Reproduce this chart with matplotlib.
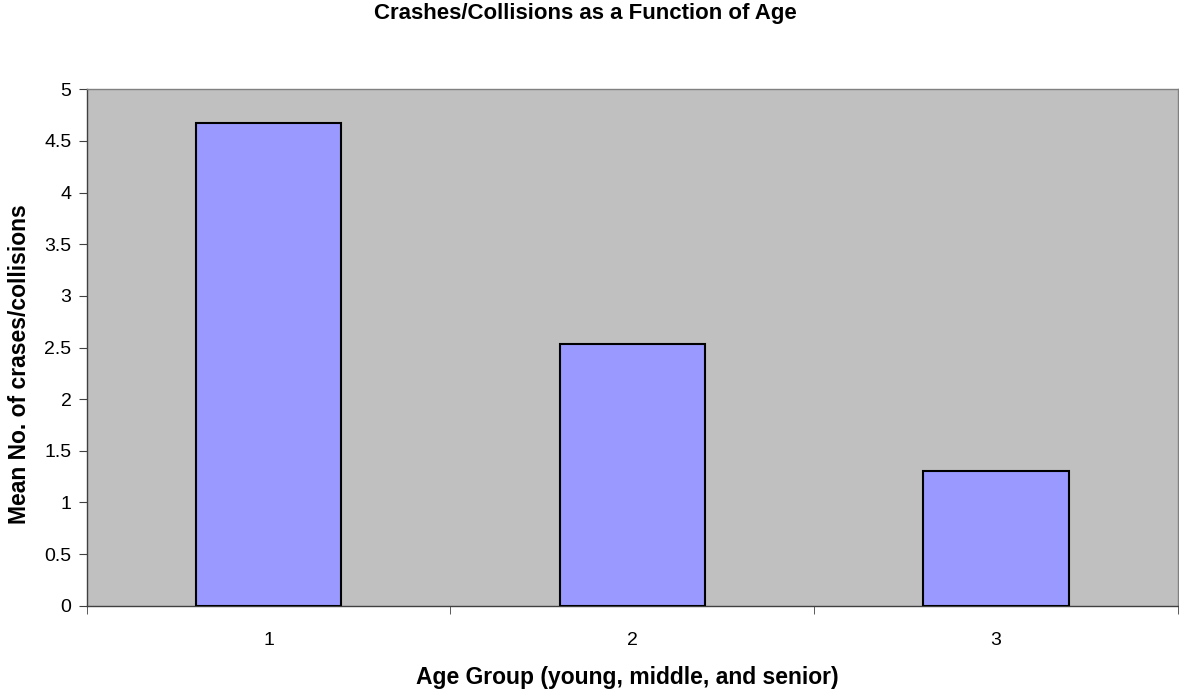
import matplotlib
matplotlib.use("Agg")
import matplotlib.pyplot as plt

categories = ["1", "2", "3"]
values = [4.67, 2.535, 1.30]
yticks = [0, 0.5, 1, 1.5, 2, 2.5, 3, 3.5, 4, 4.5, 5]
ytick_labels = ["0", "0.5", "1", "1.5", "2", "2.5", "3", "3.5", "4", "4.5", "5"]

plt.rcParams['font.family'] = ['Liberation Sans', 'DejaVu Sans']

W, H = 1179, 691
fig = plt.figure(figsize=(W/100, H/100), dpi=100)
ax = fig.add_axes([86.7/W, 1-605.7/H, (1178-86.7)/W, (605.7-89.3)/H])
ax.set_facecolor('#c0c0c0')
x = list(range(1, len(categories)+1))
ax.bar(x, values, width=0.4, color='#9999ff', edgecolor='black', linewidth=1.5, zorder=3)
ax.set_xlim(0.5, 3.5)
ax.set_ylim(0, 5)
ax.set_yticks(yticks)
ax.set_yticklabels(ytick_labels, fontsize=14)
ax.set_xticks(x)
ax.set_xticklabels(categories, fontsize=14)
ax.set_xticks([0.5, 1.5, 2.5, 3.5], minor=True)
ax.tick_params(axis='x', which='major', length=0, pad=19)
ax.tick_params(axis='x', which='minor', length=6, direction='out', color='#404040')
ax.tick_params(axis='y', which='major', length=6, direction='out', color='#404040', pad=5)
for s in ['top', 'right']:
    ax.spines[s].set_color('#808080')
    ax.spines[s].set_linewidth(1)
for s in ['left', 'bottom']:
    ax.spines[s].set_color('#404040')
    ax.spines[s].set_linewidth(1)

fig.text(627/W, 1-684/H, 'Age Group (young, middle, and senior)', ha='center', va='baseline',
         fontsize=16.5, fontweight='bold')
fig.text(20/W, 1-364/H, 'Mean No. of crases/collisions', ha='center', va='center',
         rotation=90, fontsize=16.5, fontweight='bold')
fig.text(585/W, 1-18.5/H, 'Crashes/Collisions as a Function of Age', ha='center', va='baseline',
         fontsize=16, fontweight='bold')

fig.savefig('out.png', dpi=100, facecolor='white')
